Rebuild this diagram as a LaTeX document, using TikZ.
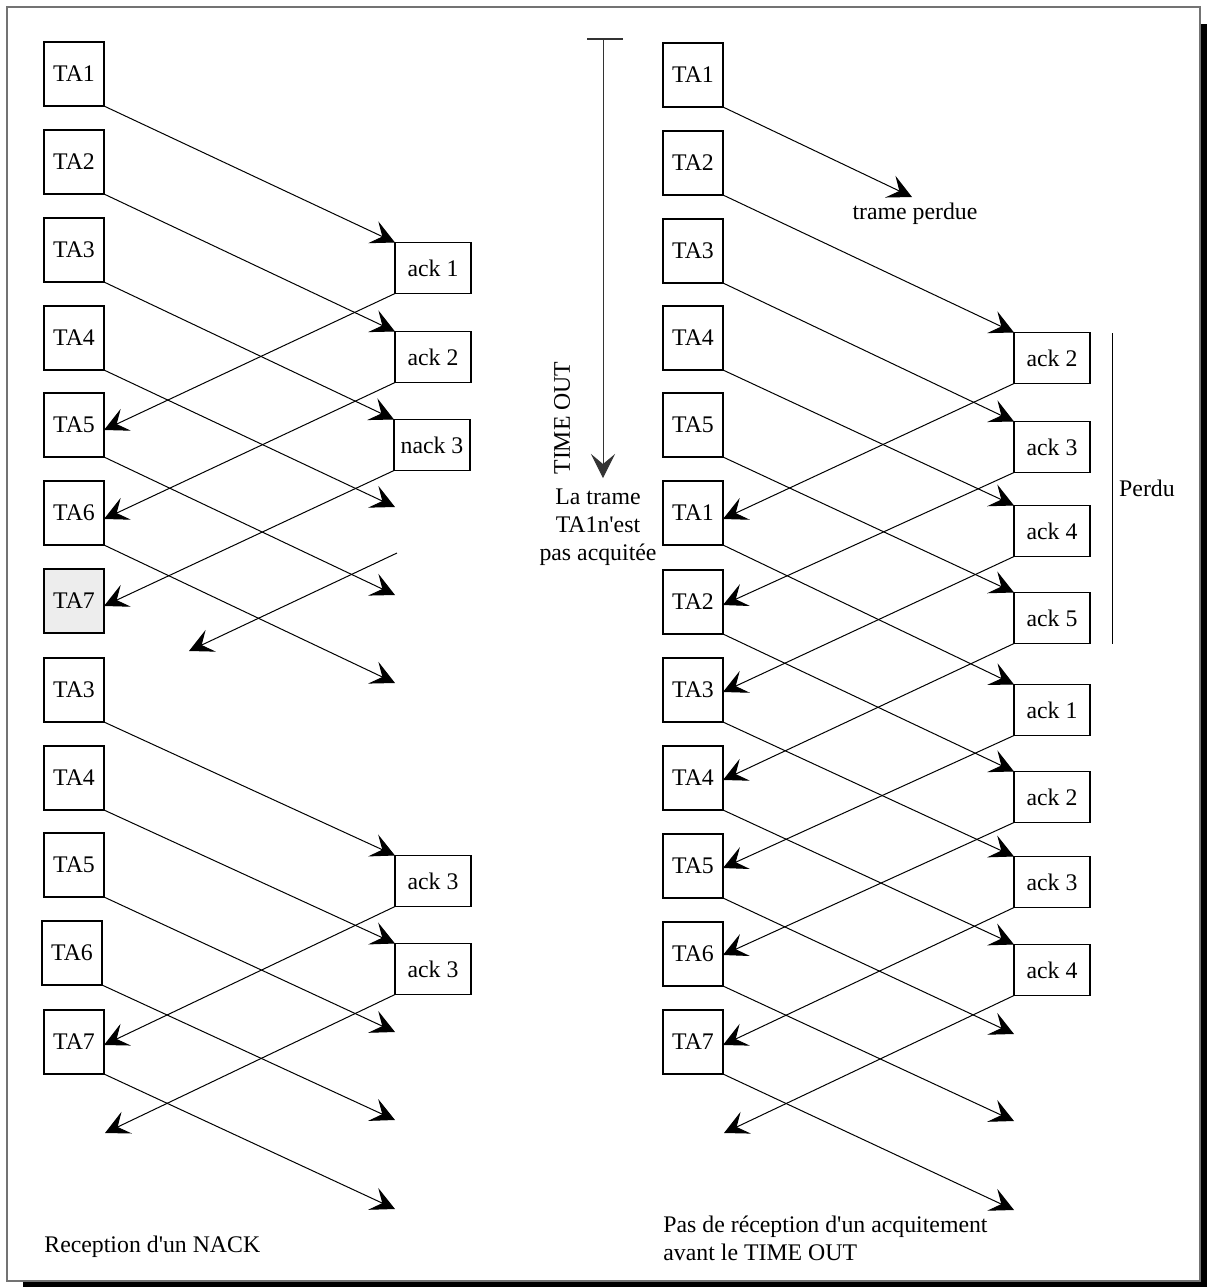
\documentclass[tikz,border=0pt]{standalone}
\usepackage{fontspec}
\setmainfont{Liberation Serif}[Ligatures=TeXOff]
\usetikzlibrary{arrows.meta,calc}

\begin{document}
\begin{tikzpicture}[x=0.5pt,y=-0.5pt,
  txt/.style={font=\fontsize{11.9}{14}\selectfont, inner sep=0pt},
  frame/.style={draw, line width=0.55pt, inner sep=0pt, outer sep=0pt, fill=white,
    font=\fontsize{11.9}{14}\selectfont},
  tabox/.style={frame, minimum width=30pt, minimum height=32pt},
  tagray/.style={tabox, fill=black!7},
  ackbox/.style={frame, minimum width=38pt, minimum height=25.5pt},
  msg/.style={line width=0.5pt, -{Stealth[length=12pt,width=12pt,inset=5pt]}},
]
\useasboundingbox (0,0) rectangle (1207,1287);

% page frame with drop shadow
\fill[black] (23,24) rectangle (1207,1287);
\draw[fill=white, draw=black!55, line width=0.8pt] (7,7) rectangle (1200,1281);

% ---------------- left sequence: reception of a NACK ----------------
\node[tabox]  (l1)  at (74,74)   {TA1};
\node[tabox]  (l2)  at (74,162)  {TA2};
\node[tabox]  (l3)  at (74,250)  {TA3};
\node[tabox]  (l4)  at (74,338)  {TA4};
\node[tabox]  (l5)  at (74,425)  {TA5};
\node[tabox]  (l6)  at (74,513)  {TA6};
\node[tagray] (l7)  at (74,601)  {TA7};
\node[tabox]  (l8)  at (74,690)  {TA3};
\node[tabox]  (l9)  at (74,778)  {TA4};
\node[tabox]  (l10) at (74,865)  {TA5};
\node[tabox]  (l11) at (72,953)  {TA6};
\node[tabox]  (l12) at (74,1042) {TA7};

\node[ackbox] (la1) at (433,268) {ack 1};
\node[ackbox] (la2) at (433,357) {ack 2};
\node[ackbox] (la3) at (432,445) {nack 3};
\node[ackbox] (la4) at (433,881) {ack 3};
\node[ackbox] (la5) at (433,969) {ack 3};

\coordinate (fl4)  at (395,507);
\coordinate (fl5)  at (395,595);
\coordinate (fl6)  at (395,683);
\coordinate (fl10) at (395,1032);
\coordinate (fl11) at (395,1120);
\coordinate (fl12) at (395,1209);
\coordinate (bls)  at (397,553);
\coordinate (ble)  at (189,651);
\coordinate (blf)  at (105,1133);

\draw[msg] (l1.south east)  -- (la1.north west);
\draw[msg] (l2.south east)  -- (la2.north west);
\draw[msg] (l3.south east)  -- (la3.north west);
\draw[msg] (l4.south east)  -- (fl4);
\draw[msg] (l5.south east)  -- (fl5);
\draw[msg] (l6.south east)  -- (fl6);
\draw[msg] (l8.south east)  -- (la4.north west);
\draw[msg] (l9.south east)  -- (la5.north west);
\draw[msg] (l10.south east) -- (fl10);
\draw[msg] (l11.south east) -- (fl11);
\draw[msg] (l12.south east) -- (fl12);

\draw[msg] (la1.south west) -- ($(l5.east)+(0,5)$);
\draw[msg] (la2.south west) -- ($(l6.east)+(0,6)$);
\draw[msg] (la3.south west) -- ($(l7.east)+(0,5)$);
\draw[msg] (bls) -- (ble);
\draw[msg] (la4.south west) -- ($(l12.east)+(0,3)$);
\draw[msg] (la5.south west) -- (blf);

\node[txt, anchor=west] (nackcap) at (44,1247) {Reception d'un NACK};

% ---------------- time-out marker ----------------
\coordinate (tot) at (603,39);
\coordinate (tob) at (603,478);
\coordinate (tol) at (587,39);
\coordinate (tor) at (623,39);
\draw[line width=0.6pt, black!80] (tol) -- (tor);
\draw[msg, black!80] (tot) -- (tob);
\node[txt, rotate=90] (tolabel) at (562,418) {TIME OUT};
\node[txt, align=center] (tonote) at (598,527) {La trame\\TA1n'est\\pas acquitée};

% ---------------- right sequence: time-out without acknowledgement ----------------
\node[tabox] (r1)  at (693,75)   {TA1};
\node[tabox] (r2)  at (693,163)  {TA2};
\node[tabox] (r3)  at (693,251)  {TA3};
\node[tabox] (r4)  at (693,338)  {TA4};
\node[tabox] (r5)  at (693,425)  {TA5};
\node[tabox] (r6)  at (693,513)  {TA1};
\node[tabox] (r7)  at (693,602)  {TA2};
\node[tabox] (r8)  at (693,690)  {TA3};
\node[tabox] (r9)  at (693,778)  {TA4};
\node[tabox] (r10) at (693,866)  {TA5};
\node[tabox] (r11) at (693,954)  {TA6};
\node[tabox] (r12) at (693,1042) {TA7};

\node[ackbox] (ra1) at (1052,358) {ack 2};
\node[ackbox] (ra2) at (1052,447) {ack 3};
\node[ackbox] (ra3) at (1052,531) {ack 4};
\node[ackbox] (ra4) at (1052,618) {ack 5};
\node[ackbox] (ra5) at (1052,710) {ack 1};
\node[ackbox] (ra6) at (1052,797) {ack 2};
\node[ackbox] (ra7) at (1052,882) {ack 3};
\node[ackbox] (ra8) at (1052,970) {ack 4};

\coordinate (fr1)  at (912,197);
\coordinate (fr10) at (1014,1034);
\coordinate (fr11) at (1014,1121);
\coordinate (fr12) at (1014,1210);
\coordinate (brf)  at (724,1133);

\draw[msg] (r1.south east)  -- (fr1);
\draw[msg] (r2.south east)  -- (ra1.north west);
\draw[msg] (r3.south east)  -- (ra2.north west);
\draw[msg] (r4.south east)  -- (ra3.north west);
\draw[msg] (r5.south east)  -- (ra4.north west);
\draw[msg] (r6.south east)  -- (ra5.north west);
\draw[msg] (r7.south east)  -- (ra6.north west);
\draw[msg] (r8.south east)  -- (ra7.north west);
\draw[msg] (r9.south east)  -- (ra8.north west);
\draw[msg] (r10.south east) -- (fr10);
\draw[msg] (r11.south east) -- (fr11);
\draw[msg] (r12.south east) -- (fr12);

\draw[msg] (ra1.south west) -- ($(r6.east)+(0,6)$);
\draw[msg] (ra2.south west) -- ($(r7.east)+(0,3)$);
\draw[msg] (ra3.south west) -- ($(r8.east)+(0,2)$);
\draw[msg] (ra4.south west) -- ($(r9.east)+(0,2)$);
\draw[msg] (ra5.south west) -- ($(r10.east)+(0,2)$);
\draw[msg] (ra6.south west) -- ($(r11.east)+(0,1)$);
\draw[msg] (ra7.south west) -- ($(r12.east)+(0,3)$);
\draw[msg] (ra8.south west) -- (brf);

\node[txt] (lost) at (915,214) {trame perdue};

% bracket over the lost acknowledgements
\coordinate (pt) at (1112,333);
\coordinate (pb) at (1112,644);
\draw[line width=0.5pt] (pt) -- (pb);
\node[txt] (perdu) at (1147,488) {Perdu};

\node[txt, anchor=west, align=left] (tocap) at (663,1238)
  {Pas de réception d'un acquitement\\avant le TIME OUT};

\end{tikzpicture}
\end{document}
